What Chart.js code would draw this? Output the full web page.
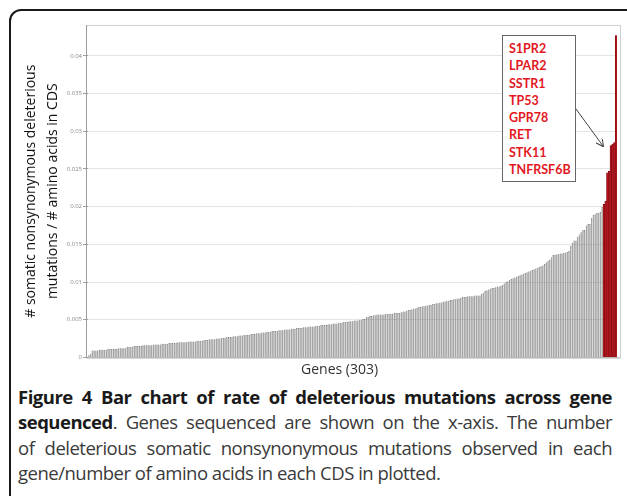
<!DOCTYPE html>
<html>
<head>
<meta charset="utf-8">
<script src="https://cdn.jsdelivr.net/npm/chart.js@4"></script>
<style>
  body { margin: 0; width: 627px; height: 496px; overflow: hidden; background: #fff; position: relative; font-family: "Open Sans", sans-serif; }
  #frame { position: absolute; left: 9px; top: 9px; width: 700px; height: 600px; border: 2px solid #1a1a1a; border-top-left-radius: 12px; }
  #chart { position: absolute; left: 0; top: 0; }
  #xtitle { position: absolute; left: 301px; top: 359px; font-size: 14px; color: #333; }
  #genes { position: absolute; left: 502px; top: 35px; width: 74px; height: 147px; box-sizing: border-box; border: 1px solid #666; background: #fff;
           padding: 4px 0 0 6px; font: bold 12.5px Lato, sans-serif; line-height: 17.3px; color: #e3181f; }
  #arrow { position: absolute; left: 0; top: 0; }
  #caption { position: absolute; left: 18px; top: 384px; width: 594px; font-size: 18.5px; letter-spacing: -0.5px; line-height: 25.3px; color: #3a3a3a; }
  #caption div { text-align: justify; text-align-last: justify; white-space: nowrap; }
  #caption div.last { text-align-last: left; }
  #caption b { color: #1a1a1a; }
</style>
</head>
<body>
<div id="frame"></div>
<canvas id="chart" width="627" height="362"></canvas>
<div id="xtitle">Genes (303)</div>
<div id="genes"></div>
<svg id="arrow" width="627" height="362">
  <defs>
    <marker id="head" markerWidth="8" markerHeight="8" refX="7" refY="4" orient="auto" markerUnits="userSpaceOnUse">
      <path d="M0,0 L8,4 L0,8" fill="none" stroke="#444" stroke-width="1"/>
    </marker>
  </defs>
  <line x1="576" y1="109" x2="603" y2="146" stroke="#444" stroke-width="1" marker-end="url(#head)"/>
</svg>
<div id="caption">
  <div><b>Figure 4 Bar chart of rate of deleterious mutations across gene</b></div>
  <div><b>sequenced</b>. Genes sequenced are shown on the x-axis. The number</div>
  <div>of deleterious somatic nonsynonymous mutations observed in each</div>
  <div class="last">gene/number of amino acids in each CDS in plotted.</div>
</div>
<script>
// rates, genes sorted ascending
const greyRates = [
  0.0003, 0.0005, 0.0009, 0.0009, 0.0009, 0.0009, 0.0010, 0.0010, 0.0010, 0.0010, 0.0010, 0.0011, 0.0011, 0.0011, 0.0011, 0.0011, 0.0011, 0.0012, 0.0012, 0.0012, 0.0012, 0.0012,
  0.0014, 0.0014, 0.0014, 0.0014, 0.0015, 0.0015, 0.0015, 0.0015, 0.0015, 0.0016, 0.0016, 0.0016, 0.0016, 0.0016, 0.0016, 0.0017, 0.0017, 0.0017, 0.0017, 0.0017,
  0.0018, 0.0018, 0.0018, 0.0018, 0.0019, 0.0019, 0.0019, 0.0019, 0.0019, 0.0020, 0.0020, 0.0020, 0.0020, 0.0020, 0.0020, 0.0021, 0.0021, 0.0021, 0.0021, 0.0021, 0.0022, 0.0022,
  0.0022, 0.0022, 0.0023, 0.0023, 0.0023, 0.0024, 0.0024, 0.0024, 0.0024, 0.0025, 0.0025, 0.0025, 0.0026, 0.0026, 0.0026, 0.0027, 0.0027, 0.0027, 0.0027, 0.0028,
  0.0028, 0.0028, 0.0029, 0.0029, 0.0029, 0.0030, 0.0030, 0.0030, 0.0030, 0.0031, 0.0031, 0.0031, 0.0032, 0.0032, 0.0032, 0.0033, 0.0033, 0.0033, 0.0034,
  0.0034, 0.0034, 0.0035, 0.0035, 0.0035, 0.0035, 0.0036, 0.0036, 0.0036, 0.0037, 0.0037, 0.0037, 0.0037, 0.0038, 0.0038, 0.0038, 0.0039, 0.0039,
  0.0039, 0.0039, 0.0040, 0.0040, 0.0040, 0.0041, 0.0041, 0.0041, 0.0041, 0.0042, 0.0042, 0.0042, 0.0043, 0.0043, 0.0043, 0.0043, 0.0044, 0.0044,
  0.0044, 0.0045, 0.0045, 0.0045, 0.0046, 0.0046, 0.0046, 0.0047, 0.0047, 0.0047, 0.0048, 0.0048, 0.0048, 0.0049, 0.0049, 0.0049, 0.0050, 0.0050, 0.0051, 0.0051,
  0.0054, 0.0054, 0.0055, 0.0055, 0.0056, 0.0056, 0.0057, 0.0057, 0.0057, 0.0057, 0.0057, 0.0058, 0.0058, 0.0058, 0.0058, 0.0058, 0.0059, 0.0059, 0.0059, 0.0059,
  0.0060, 0.0061, 0.0061, 0.0062, 0.0063, 0.0063, 0.0064, 0.0065, 0.0065, 0.0066, 0.0067,
  0.0067, 0.0068, 0.0068, 0.0069, 0.0069, 0.0070, 0.0070, 0.0071, 0.0071, 0.0072, 0.0072, 0.0073, 0.0073, 0.0074, 0.0074, 0.0075, 0.0075, 0.0076, 0.0076, 0.0077,
  0.0077, 0.0078, 0.0078, 0.0079, 0.0080,
  0.0080, 0.0080, 0.0081, 0.0081, 0.0081, 0.0081, 0.0082, 0.0082, 0.0082, 0.0082, 0.0084, 0.0086, 0.0088, 0.0089, 0.0090, 0.0091, 0.0092, 0.0092, 0.0093, 0.0094,
  0.0094, 0.0095, 0.0096,
  0.0098, 0.0100, 0.0101, 0.0103, 0.0104, 0.0105, 0.0106, 0.0107, 0.0108, 0.0109, 0.0110, 0.0111, 0.0112, 0.0113, 0.0114, 0.0115, 0.0116, 0.0117, 0.0118, 0.0119,
  0.0120, 0.0121, 0.0122, 0.0124,
  0.0126, 0.0128, 0.0130, 0.0133, 0.0136, 0.0136, 0.0137, 0.0137, 0.0138, 0.0138, 0.0139, 0.0139, 0.0140, 0.0141, 0.0148, 0.0152, 0.0155, 0.0155, 0.0160, 0.0163,
  0.0166, 0.0169, 0.0169, 0.0175, 0.0177, 0.0177, 0.0185, 0.0189, 0.0190, 0.0192, 0.0192, 0.0193, 0.0200,
];
// the highlighted top genes (red)
const redRates = [0.0203, 0.0207, 0.0245, 0.0247, 0.0281, 0.0283, 0.0285, 0.0427];
const redGenes = ['S1PR2', 'LPAR2', 'SSTR1', 'TP53', 'GPR78', 'RET', 'STK11', 'TNFRSF6B'];
const yTicks = [0, 0.005, 0.01, 0.015, 0.02, 0.025, 0.03, 0.035, 0.04];
const yTickLabels = ['0', '0.005', '0.01', '0.015', '0.02', '0.025', '0.03', '0.035', '0.04'];
const yTitle = ['# somatic nonsynonymous deleterious', 'mutations / # amino acids in CDS'];

document.getElementById('genes').innerHTML = redGenes.map((g) => `<div>${g}</div>`).join('');

const total = greyRates.length + redRates.length;
const labels = Array.from({ length: total }, (_, i) => String(i + 1));
const greyData = greyRates.concat(redRates.map(() => null));
const redData = greyRates.map(() => null).concat(redRates);

// plot frame sits a little outside the bars, as in the original
const plotFrame = {
  id: 'plotFrame',
  beforeDatasetsDraw(chart) {
    const { ctx, chartArea: a } = chart;
    const l = a.left - 2, r = a.right + 3;
    ctx.save();
    ctx.lineWidth = 1;
    ctx.strokeStyle = '#d0d0d0';
    ctx.beginPath();
    ctx.moveTo(l, a.top + 0.5); ctx.lineTo(r + 0.5, a.top + 0.5); ctx.lineTo(r + 0.5, a.bottom);
    ctx.stroke();
    ctx.strokeStyle = '#9c9c9c';
    ctx.beginPath();
    ctx.moveTo(l + 0.5, a.top); ctx.lineTo(l + 0.5, a.bottom + 0.5); ctx.lineTo(r + 0.5, a.bottom + 0.5);
    ctx.stroke();
    ctx.restore();
  },
};

new Chart(document.getElementById('chart'), {
  type: 'bar',
  data: {
    labels,
    datasets: [
      { data: greyData, backgroundColor: '#a9a7a7', borderColor: '#5e5c5c', borderWidth: 0.5, barPercentage: 0.82, categoryPercentage: 1, grouped: false },
      { data: redData, backgroundColor: '#b5141c', borderColor: '#7e0b10', borderWidth: 0.6, barPercentage: 1, categoryPercentage: 1, grouped: false },
    ],
  },
  options: {
    responsive: false,
    animation: false,
    layout: { padding: { left: 20, top: 25, right: 10, bottom: 4 } },
    plugins: { legend: { display: false }, tooltip: { enabled: false } },
    scales: {
      x: {
        ticks: { display: false },
        grid: { display: false },
        border: { display: false },
        afterFit: (s) => { s.height = 0; },
      },
      y: {
        min: 0,
        max: 0.0441,
        afterBuildTicks: (s) => { s.ticks = yTicks.map((v) => ({ value: v })); },
        afterFit: (s) => { s.width = 68; },
        ticks: {
          callback: (v, i) => yTickLabels[i],
          font: { size: 6, family: 'Open Sans' },
          color: '#8a8a8a',
          padding: 1,
        },
        grid: { color: '#e4e4e4', tickLength: 5, tickColor: '#a0a0a0' },
        border: { display: false },
        title: {
          display: true,
          text: yTitle,
          color: '#111',
          font: { size: 14, family: 'Open Sans', lineHeight: 1.57 },
          padding: { top: 0, bottom: 0 },
        },
      },
    },
  },
  plugins: [plotFrame],
});
</script>
</body>
</html>
